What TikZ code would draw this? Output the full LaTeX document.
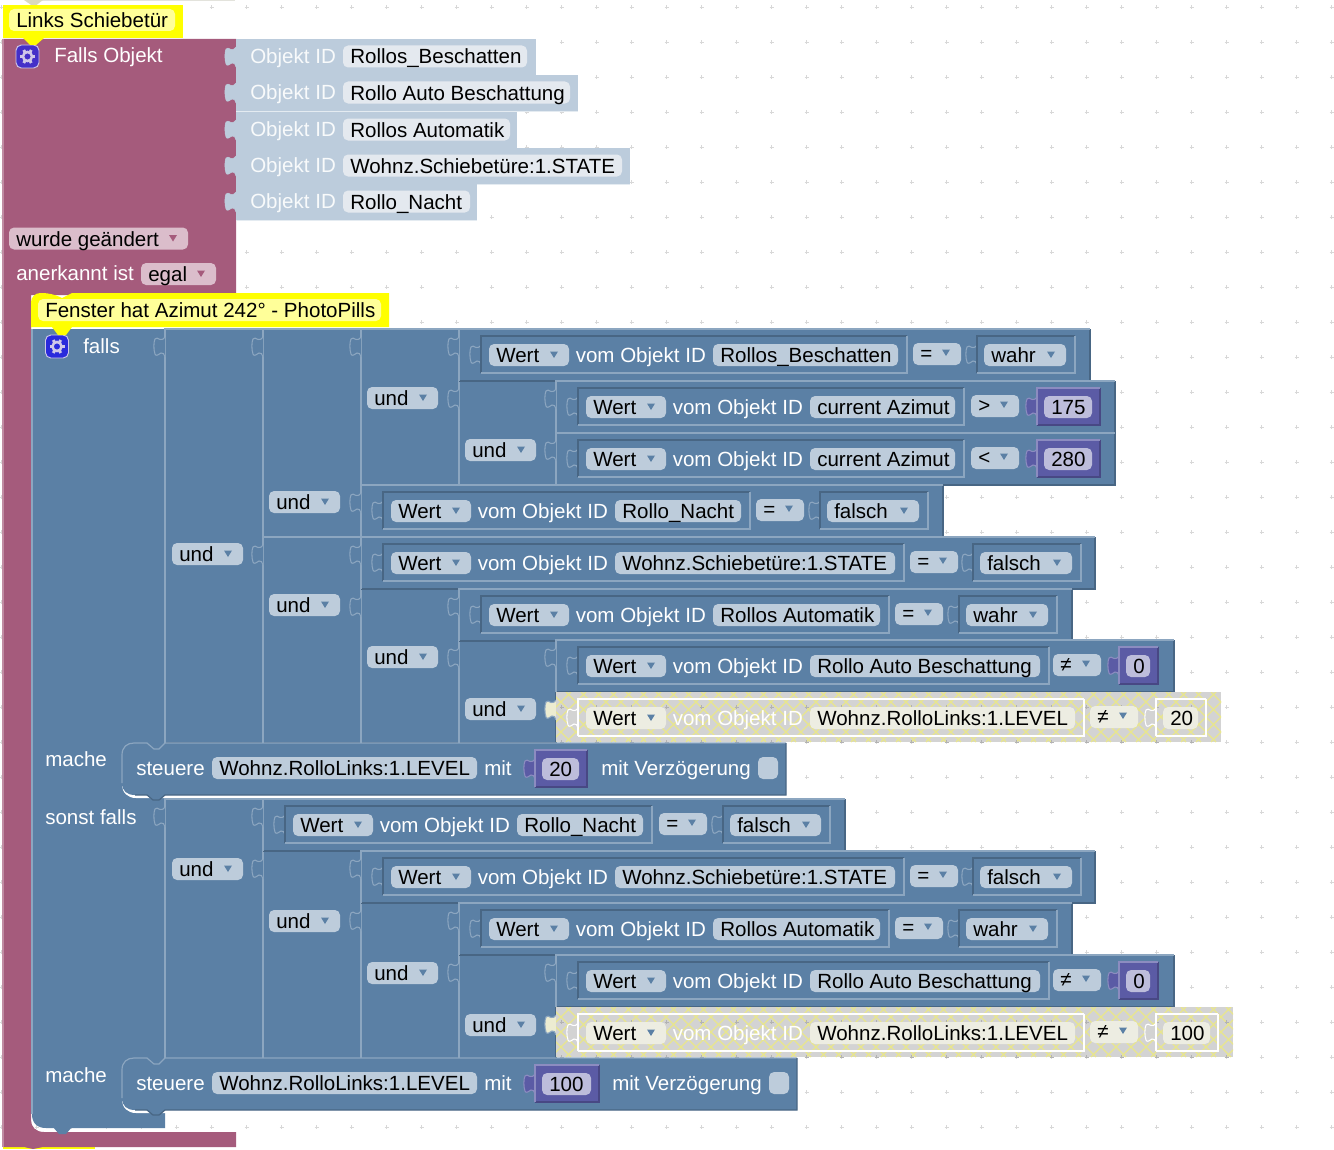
\documentclass[tikz,border=0pt]{standalone}
\usepackage{fontspec}
\setmainfont{Liberation Sans}

\definecolor{blockcol}{HTML}{5B80A5}
\definecolor{blocklight}{HTML}{8CA6C0}
\definecolor{blockdark}{HTML}{486684}
\definecolor{fieldcol}{HTML}{BDCCDB}
\definecolor{logiccol}{HTML}{A55B7C}
\definecolor{logicfield}{HTML}{DBBDCB}
\definecolor{idcol}{HTML}{BCCCDC}
\definecolor{idfield}{HTML}{E4E9EF}
\definecolor{numcol}{HTML}{5B5BA5}
\definecolor{numfield}{HTML}{BDBDDB}
\definecolor{numlight}{HTML}{8C8CC0}
\definecolor{numdark}{HTML}{484884}
\definecolor{notecol}{HTML}{FFFF00}
\definecolor{notefield}{HTML}{FFFF99}
\definecolor{gearcol}{HTML}{2A2ADC}
\definecolor{gearpurple}{HTML}{4430C8}
\definecolor{gearlight}{HTML}{CFC8E8}
\definecolor{hlgray}{HTML}{D3D3D3}
\definecolor{hlhatch}{HTML}{E9E68C}
\definecolor{hlfield}{HTML}{EDEDE2}
\definecolor{griddotcol}{HTML}{D8D8D8}

\tikzset{
  blocktext/.style={anchor=base west,inner sep=0pt,text=white},
  fieldtext/.style={anchor=base west,inner sep=0pt,text=black},
  fieldbox/.style={rounded corners=3.8pt},
  holedark/.style={draw=blockdark,line width=0.9pt},
  holelight/.style={draw=blocklight,line width=0.9pt},
  tabshape/.style={fill=blockcol,draw=blocklight,line width=0.8pt},
  holetab/.style={tabshape},
  griddot/.style={draw=griddotcol,line width=0.8pt},
}

\newcommand{\fieldcolor}{fieldcol}
\newcommand{\arrowcolor}{blockcol}

% puzzle tab, open on its right side
\newcommand{\notch}[3]{%
  \draw[#3] (#1,#2) .. controls (#1-1,#2+2) and (#1-3,#2+3) .. (#1-5,#2+2.5)
    .. controls (#1-7,#2+2) and (#1-9,#2-0.5) .. (#1-10,#2+2)
    .. controls (#1-11.5,#2+5) and (#1-11.5,#2+13) .. (#1-10,#2+17)
    .. controls (#1-9,#2+20) and (#1-6,#2+17) .. (#1-4,#2+16)
    .. controls (#1-2,#2+15.5) and (#1-0.5,#2+17) .. (#1,#2+20);
}
% plain rectangle block with its bevel
\newcommand{\blockrect}[4]{%
  \fill[blockcol] (#1,#2) rectangle (#3,#4);
  \draw[blockdark,line width=0.9pt] (#3,#2) -- (#3,#4) -- (#1,#4);
  \draw[blocklight,line width=0.9pt] (#1,#4) -- (#1,#2) -- (#3,#2);
}
% inline field: name, x1, x2, y centre, text
\newcommand{\field}[5]{%
  \fill[fieldbox,\fieldcolor] (#2,#4-11) rectangle (#3,#4+11);
  \node[fieldtext] (#1) at (#2+7,#4+7.5) {#5};
}
% dropdown field: as \field, with the little triangle
\newcommand{\drop}[5]{%
  \field{#1}{#2}{#3}{#4}{#5}
  \fill[\arrowcolor] (#3-19,#4-3.5) -- (#3-11,#4-3.5) -- (#3-15,#4+3) -- cycle;
}
% hole of an inline input, with its tab
\newcommand{\hole}[4]{%
  \notch{#1}{#3+16}{holetab}
  \draw[holedark] (#1,#3+44) -- (#1,#3+7) -- (#2,#3+7);
  \draw[holelight] (#2,#3+7) -- (#2,#3+44) -- (#1,#3+44);
}
% Wert vom Objekt ID ... with the comparison dropdown
\newcommand{\wertparts}[7]{%
  \hole{#2+22}{#4+9}{#3}{}
  \drop{#1w}{#2+30}{#2+110}{#3+26}{Wert}
  \node[blocktext] (#1v) at (#2+116.5,#3+33.5) {vom Objekt ID};
  \field{#1i}{#2+254}{#4}{#3+26}{#5}
  \fill[fieldbox,\fieldcolor] (#6,#3+14) rectangle (#6+48,#3+36);
  \node[fieldtext] (#1o) at (#6+7,#3+31) {#7};
  \fill[\arrowcolor] (#6+29,#3+20.5) -- (#6+37,#3+20.5) -- (#6+33,#3+27) -- cycle;
}
\newcommand{\wertrow}[8]{%
  \blockrect{#2}{#3}{#4}{#3+52}
  \wertparts{#1}{#2}{#3}{#5}{#6}{#7}{#8}
}
% boolean value in a hole: name, x1, x2, y, text
\newcommand{\boolval}[5]{%
  \hole{#2}{#3}{#4}{}
  \drop{#1}{#2+7}{#3-9}{#4+26}{#5}
}
% number block: name, x1, x2, y, text
\newcommand{\numval}[5]{%
  \notch{#2}{#4+16}{fill=numcol,draw=numlight,line width=0.8pt}
  \fill[numcol] (#2,#4+7) rectangle (#3,#4+44);
  \draw[numdark,line width=0.9pt] (#3,#4+7) -- (#3,#4+44) -- (#2,#4+44);
  \draw[numlight,line width=0.9pt] (#2,#4+44) -- (#2,#4+7) -- (#3,#4+7);
  \begingroup\renewcommand{\fieldcolor}{numfield}
  \field{#1}{#2+7}{#3-8}{#4+26}{#5}
  \endgroup
}
% grid of the workspace
\newcommand{\griddots}{%
  \foreach \i in {0,...,38} \foreach \j in {0,...,32}
    \draw[griddot] (1.7+35*\i-2,7.3+35*\j) -- ++(4,0) (1.7+35*\i,7.3+35*\j-2) -- ++(0,4);
}
% highlighted row: name, x, y, xend, id end, id, op start, value start, value end
\newcommand{\hlrow}[9]{%
  \notch{#2}{#3+8}{fill=hlfield!80!hlhatch,draw=blocklight,line width=0.8pt}
  \fill[hlgray] (#2,#3) rectangle (#4,#3+50);
  \begin{scope}
    \clip (#2,#3) rectangle (#4,#3+50);
    \foreach \k in {0,15,...,780}
      \draw[hlhatch,line width=1pt] (#2-50+\k,#3) -- ++(50,50) (#2+\k,#3) -- ++(-50,50);
    \tikzset{griddot/.style={draw=black!30,line width=0.8pt}}
    \foreach \i in {15,...,36} \foreach \j in {20,21,28,29,30}
      \draw[griddot] (1.7+35*\i-2,7.3+35*\j) -- ++(4,0) (1.7+35*\i,7.3+35*\j-2) -- ++(0,4);
  \end{scope}
  \begingroup
    \renewcommand{\fieldcolor}{hlfield}
    \tikzset{holedark/.style={draw=white,line width=0.9pt},
      holelight/.style={draw=white,line width=0.9pt},
      holetab/.style={fill=hlgray,draw=white,line width=0.8pt}}
    \wertparts{#1}{#2}{#3}{#5}{#6}{#7}{≠}
    \hole{#8}{#9}{#3}{}
  \endgroup
}
% Objekt ID socket of the trigger block
\newcommand{\idrow}[5]{%
  \notch{236}{#2+8}{fill=idcol,draw=idcol}
  \fill[idcol] (236,#2) rectangle (#3,#2+36.5);
  \draw[white!60!idcol,line width=0.7pt] (236,#2+36.5) -- (#3,#2+36.5);
  \node[blocktext,text=white!90!idcol] (#1l) at (250,#2+24.5) {Objekt ID};
  \begingroup\renewcommand{\fieldcolor}{idfield}
  \field{#1}{343}{#4}{#2+17.5}{#5}
  \endgroup
}
% statement block: name, y, xend, number start, number end, text x, check x
\newcommand{\setblock}[8]{%
  \fill[white] (122,#2+28) -- (122,#2+41) .. controls (122,#2+50) and (128,#2+55) .. (136,#2+55) -- (170,#2+55) -- (170,#2+28) -- cycle;
  \fill[blockcol] (122,#2+12) .. controls (122,#2+4) and (127,#2) .. (134,#2) -- (147,#2) -- (154,#2+6) -- (159,#2+6) -- (165,#2) -- (#3,#2) -- (#3,#2+52) -- (165,#2+52) -- (159,#2+57) -- (153,#2+57) -- (147,#2+52) -- (135,#2+52) .. controls (127,#2+52) and (122,#2+48) .. (122,#2+40) -- cycle;
  \draw[blocklight,line width=0.9pt] (122,#2+40) -- (122,#2+12) .. controls (122,#2+4) and (127,#2) .. (134,#2) -- (147,#2) -- (154,#2+6) -- (159,#2+6) -- (165,#2) -- (#3,#2);
  \draw[blockdark,line width=0.9pt] (#3,#2) -- (#3,#2+52) -- (165,#2+52) -- (159,#2+57) -- (153,#2+57) -- (147,#2+52) -- (135,#2+52);
  \node[blocktext] (#1s) at (136,#2+32.5) {steuere};
  \field{#1i}{212}{477}{#2+25}{Wohnz.RolloLinks:1.LEVEL}
  \node[blocktext] (#1m) at (484,#2+32.5) {mit};
  \numval{#1n}{#4}{#5}{#2}{#8}
  \node[blocktext] (#1d) at (#6,#2+32.5) {mit Verzögerung};
  \fill[fieldbox,\fieldcolor] (#7,#2+14) rectangle (#7+20,#2+36);
}
% settings button
\newcommand{\gearicon}[3]{%
  \begin{scope}[shift={(#1,#2)}]
    \fill[#3,rounded corners=4pt] (-11.5,-11.5) rectangle (11.5,11.5);
    \draw[gearlight,line width=0.7pt,rounded corners=4pt] (-11.5,-11.5) rectangle (11.5,11.5);
    \draw[gearlight,line width=1.9pt] (0,0) circle (4.5);
    \foreach \a in {0,60,...,300}
      \draw[gearlight,line width=2.2pt] (\a:5) -- (\a:7.5);
  \end{scope}
}

\begin{document}
\begin{tikzpicture}[x=0.75pt,y=0.75pt,yscale=-1,xscale=1,
  every node/.append style={font=\fontsize{15.4}{19}\selectfont}]
\useasboundingbox (0,0) rectangle (1334,1149);

\griddots

%neighbour blocks at the top and bottom edge
\fill[hlfield!60!hlgray] (30,0) rectangle (235,1);
\fill[hlgray!70!hlhatch] (24,0) -- (43,0) -- (34,7) -- cycle;
\fill[notecol] (3,1146) rectangle (95,1149);

%trigger block, a C shape
\fill[logiccol] (3,39) -- (236,39) -- (236,295) -- (31,295) -- (31,1120) .. controls (31,1127) and (36,1132) .. (44,1132) -- (236,1132) -- (236,1147) -- (43,1147) -- (33,1149) -- (24,1147) -- (3,1147) -- cycle;
\draw[logiccol!70!white,line width=0.8pt] (3,1147) -- (3,39);

%Objekt ID sockets
\idrow{idA}{39}{536}{527}{Rollos\_Beschatten}
\idrow{idB}{75}{578}{570}{Rollo Auto Beschattung}
\idrow{idC}{112}{517}{510}{Rollos Automatik}
\idrow{idD}{148}{630}{622}{Wohnz.Schiebetüre:1.STATE}
\idrow{idE}{184}{477}{470}{Rollo\_Nacht}

\gearicon{27.5}{56.5}{gearpurple}
\node[blocktext] (trigger) at (54,63) {Falls Objekt};
\begingroup
\renewcommand{\fieldcolor}{logicfield}\renewcommand{\arrowcolor}{logiccol}
\drop{changed}{9}{188}{238.5}{wurde geändert}
\node[blocktext] (ack) at (16,280.5) {anerkannt ist};
\drop{ackval}{141}{216}{274}{egal}
\endgroup

%if block column
\fill[blockcol] (32,329) -- (165,329) -- (165,1128) -- (46,1128) .. controls (37,1128) and (32,1123) .. (32,1114) -- cycle;
\fill[blockcol] (53,1127) -- (72,1127) -- (66,1134) -- (59,1134) -- cycle;
\draw[blocklight,line width=0.9pt] (32,1114) -- (32,329);

%first condition, the und cells
\blockrect{165}{329}{263}{743}
\blockrect{263}{329}{361}{537}
\blockrect{263}{537}{361}{743}
\blockrect{361}{329}{459}{485}
\blockrect{361}{589}{459}{743}
\blockrect{459}{381}{556}{485}
\blockrect{459}{640}{556}{743}

\wertrow{rowA}{459}{329}{1090}{898}{Rollos\_Beschatten}{913}{=}
\boolval{valA}{977}{1075}{329}{wahr}
\wertrow{rowB}{556}{381}{1115}{955}{current Azimut}{971}{>}
\numval{valB}{1037}{1100}{381}{175}
\wertrow{rowC}{556}{433}{1115}{955}{current Azimut}{971}{<}
\numval{valC}{1037}{1100}{433}{280}
\wertrow{rowD}{361}{485}{943}{741}{Rollo\_Nacht}{756}{=}
\boolval{valD}{820}{928}{485}{falsch}
\wertrow{rowE}{361}{537}{1095}{895}{Wohnz.Schiebetüre:1.STATE}{910}{=}
\boolval{valE}{973}{1081}{537}{falsch}
\wertrow{rowF}{459}{589}{1072}{880}{Rollos Automatik}{895}{=}
\boolval{valF}{959}{1057}{589}{wahr}
\wertrow{rowG}{556}{640}{1174}{1040}{Rollo Auto Beschattung}{1053}{≠}
\numval{valG}{1119}{1158}{640}{0}
\hlrow{rowH}{556}{692}{1221}{1075}{Wohnz.RolloLinks:1.LEVEL}{1090}{1156}{1206}
\begingroup\renewcommand{\fieldcolor}{hlfield}\field{valH}{1163}{1198}{718}{20}\endgroup

\foreach \tx/\ty in {165/329,263/329,361/329,459/329,556/381,556/433,459/381,361/485,263/537,361/537,361/589,459/589,459/640,556/640}{
  \notch{\tx}{\ty+8}{tabshape}
}

\drop{andA}{172}{243}{554}{und}
\drop{andB}{269}{340}{502}{und}
\drop{andC}{269}{340}{605}{und}
\drop{andD}{367}{438}{398}{und}
\drop{andE}{367}{438}{657}{und}
\drop{andF}{465}{536}{450}{und}
\drop{andG}{465}{536}{709}{und}

\gearicon{57}{346.5}{gearcol}
\node[blocktext] (falls) at (83,353) {falls};
\node[blocktext] (macheA) at (45,766) {mache};
\setblock{setA}{743}{786}{535}{587}{601}{758}{20}

\node[blocktext] (sonst) at (45,824) {sonst falls};

%second condition
\blockrect{165}{799}{263}{1059}
\blockrect{263}{851}{361}{1059}
\blockrect{361}{903}{459}{1059}
\blockrect{459}{955}{556}{1059}

\wertrow{rowI}{263}{799}{845}{643}{Rollo\_Nacht}{659}{=}
\boolval{valI}{723}{830}{799}{falsch}
\wertrow{rowJ}{361}{851}{1095}{895}{Wohnz.Schiebetüre:1.STATE}{910}{=}
\boolval{valJ}{973}{1081}{851}{falsch}
\wertrow{rowK}{459}{903}{1072}{880}{Rollos Automatik}{895}{=}
\boolval{valK}{959}{1057}{903}{wahr}
\wertrow{rowL}{556}{955}{1174}{1040}{Rollo Auto Beschattung}{1053}{≠}
\numval{valL}{1119}{1158}{955}{0}
\hlrow{rowM}{556}{1007}{1233}{1075}{Wohnz.RolloLinks:1.LEVEL}{1090}{1156}{1218}
\begingroup\renewcommand{\fieldcolor}{hlfield}\field{valM}{1163}{1210}{1033}{100}\endgroup

\foreach \tx/\ty in {165/799,263/799,361/851,459/903,556/955,263/851,361/903,459/955}{
  \notch{\tx}{\ty+8}{tabshape}
}

\drop{andH}{172}{243}{869}{und}
\drop{andI}{269}{340}{921}{und}
\drop{andJ}{367}{438}{973}{und}
\drop{andK}{465}{536}{1025}{und}

\node[blocktext] (macheB) at (45,1082) {mache};
\setblock{setB}{1058}{797}{535}{599}{612}{769}{100}

%comments
\fill[notecol] (3,5) rectangle (183,38);
\fill[notecol] (23,38) -- (44,38) -- (36,45) -- (30,45) -- cycle;
\fill[fieldbox,notefield] (9,9) rectangle (175,31);
\node[fieldtext] (noteA) at (16,27.5) {Links Schiebetür};

\fill[notecol,rounded corners=7pt] (31,329) -- (31,293) -- (52,293) [sharp corners] -- (62,298) -- (72,293) -- (389,293) -- (389,327) -- (31,327) -- cycle;
\fill[notecol] (52,327) -- (72,327) -- (66,335) -- (58,335) -- cycle;
\fill[fieldbox,notefield] (38,299) rectangle (381,321);
\node[fieldtext] (noteB) at (45,317.5) {Fenster hat Azimut 242° - PhotoPills};
\end{tikzpicture}
\end{document}
